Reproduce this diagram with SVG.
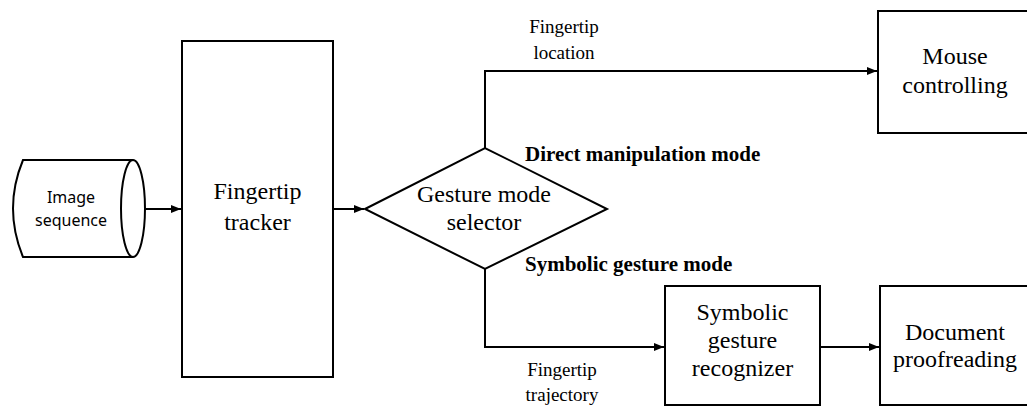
<svg xmlns="http://www.w3.org/2000/svg" width="1027" height="408" viewBox="0 0 1027 408">
<defs>
<style>
.s{fill:none;stroke:#000;stroke-width:2}
.b{fill:#fff;stroke:#000;stroke-width:2}
.big{font-family:"Liberation Serif","Times New Roman",serif;font-size:24px;fill:#000;text-anchor:middle}
.lab{font-family:"Liberation Serif","Times New Roman",serif;font-size:19px;fill:#000;text-anchor:middle}
.mode{font-family:"Liberation Serif","Times New Roman",serif;font-size:21px;font-weight:bold;fill:#000}
.cyl{font-family:"Noto Sans","DejaVu Sans",sans-serif;font-size:16px;fill:#000;text-anchor:middle}
</style>
<marker id="a" viewBox="0 0 10 8" refX="10" refY="4" markerWidth="10" markerHeight="8" markerUnits="userSpaceOnUse" orient="auto">
<path d="M0,0 L10,4 L0,8 Z" fill="#000"/>
</marker>
</defs>
<rect width="1027" height="408" fill="#fff"/>
<g id="connectors">
<path class="s" d="M145,209 H181" marker-end="url(#a)"/>
<path class="s" d="M333,209 H364" marker-end="url(#a)"/>
<path class="s" d="M485,148 V71 H877" marker-end="url(#a)"/>
<path class="s" d="M485,269 V347 H664" marker-end="url(#a)"/>
<path class="s" d="M820,347 H879" marker-end="url(#a)"/>
</g>
<g id="image-sequence">
<path class="b" d="M23,160 H133 A12,48.5 0 0 1 133,257 H23 Q3,208.5 23,160 Z"/>
<path class="s" d="M133,160 A12,48.5 0 0 0 133,257"/>
<text class="cyl" x="71" y="203">Image</text>
<text class="cyl" x="71" y="226">sequence</text>
</g>
<g id="fingertip-tracker" font-family="Liberation Serif, serif">
<rect class="b" x="182" y="41" width="151" height="336"/>
<text class="big" x="257.5" y="199">Fingertip</text>
<text class="big" x="257.5" y="230">tracker</text>
</g>
<g id="gesture-mode-selector">
<polygon class="b" points="365,209 485,148 607,209 485,269"/>
<text class="big" x="484" y="202">Gesture mode</text>
<text class="big" x="484" y="230">selector</text>
</g>
<g id="mouse-controlling">
<rect class="b" x="878" y="11" width="155" height="122"/>
<text class="big" x="955" y="64">Mouse</text>
<text class="big" x="955" y="93">controlling</text>
</g>
<g id="symbolic-gesture-recognizer">
<rect class="b" x="665" y="286" width="155" height="119"/>
<text class="big" x="742.5" y="320">Symbolic</text>
<text class="big" x="742.5" y="348">gesture</text>
<text class="big" x="742.5" y="376">recognizer</text>
</g>
<g id="document-proofreading">
<rect class="b" x="880" y="286" width="153" height="119"/>
<text class="big" x="955" y="340">Document</text>
<text class="big" x="955" y="367">proofreading</text>
</g>
<g id="labels">
<text class="lab" x="564" y="33">Fingertip</text>
<text class="lab" x="564" y="59">location</text>
<text class="mode" x="525" y="161">Direct manipulation mode</text>
<text class="mode" x="525" y="271">Symbolic gesture mode</text>
<text class="lab" x="562" y="376">Fingertip</text>
<text class="lab" x="562" y="401">trajectory</text>
</g>
</svg>
